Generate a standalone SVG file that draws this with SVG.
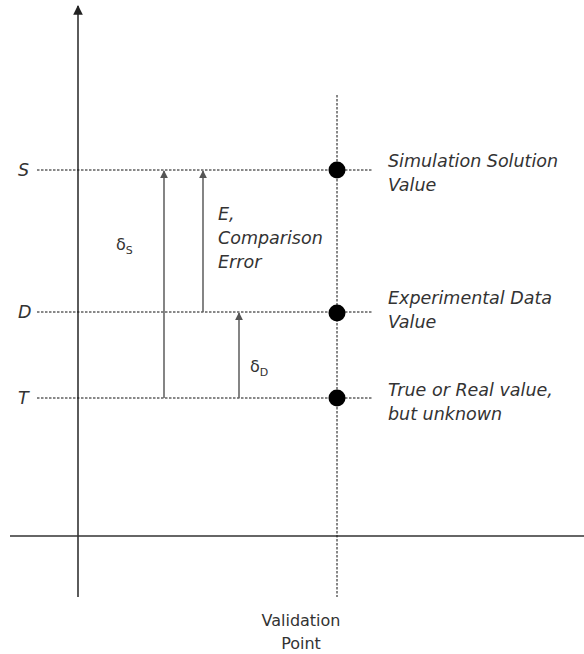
<svg xmlns="http://www.w3.org/2000/svg" width="584" height="654" viewBox="0 0 584 654">
<style>
.lbl{font-family:"DejaVu Sans",sans-serif;font-size:17.5px;font-style:italic;fill:#333}
.up{font-family:"DejaVu Sans",sans-serif;font-size:16px;fill:#333}
.dash{stroke:#111;stroke-width:1;stroke-dasharray:2.5,1.5;fill:none}
.arr{stroke:#666;stroke-width:1.6;fill:none;marker-end:url(#ah)}
.axis{stroke:#333;stroke-width:1.6;fill:none}
.dot{fill:#000}
</style>
<defs>
<marker id="ah" viewBox="0 0 10 10" refX="9" refY="5" markerWidth="5" markerHeight="5" orient="auto" markerUnits="strokeWidth"><path d="M0,0 L10,5 L0,10 z" fill="#555"/></marker>
<marker id="axh" viewBox="0 0 10 10" refX="9" refY="5" markerWidth="6" markerHeight="6" orient="auto" markerUnits="strokeWidth"><path d="M0,0 L10,5 L0,10 z" fill="#222"/></marker>
</defs>
<g id="axes">
<line class="axis" x1="78" y1="597" x2="78" y2="6" marker-end="url(#axh)"/>
<line class="axis" x1="10" y1="536" x2="584" y2="536"/>
</g>
<g id="connectors">
<line class="dash" x1="37" y1="170" x2="372" y2="170"/>
<line class="dash" x1="37" y1="312" x2="372" y2="312"/>
<line class="dash" x1="37" y1="398" x2="372" y2="398"/>
<line class="dash" x1="337" y1="95" x2="337" y2="597"/>
<line class="arr" x1="164" y1="398" x2="164" y2="171"/>
<line class="arr" x1="203" y1="312" x2="203" y2="171"/>
<line class="arr" x1="239" y1="398" x2="239" y2="313"/>
</g>
<g id="level-S"><text class="lbl" x="18" y="176">S</text></g>
<g id="level-D"><text class="lbl" x="18" y="318">D</text></g>
<g id="level-T"><text class="lbl" x="18" y="404">T</text></g>
<g id="point-S"><circle class="dot" cx="337" cy="170" r="8.5"/>
<text class="lbl" x="388" y="167">Simulation Solution</text><text class="lbl" x="388" y="191">Value</text></g>
<g id="point-D"><circle class="dot" cx="337" cy="313" r="8.5"/>
<text class="lbl" x="388" y="304">Experimental Data</text><text class="lbl" x="388" y="328">Value</text></g>
<g id="point-T"><circle class="dot" cx="337" cy="398" r="8.5"/>
<text class="lbl" x="388" y="396">True or Real value,</text><text class="lbl" x="388" y="420">but unknown</text></g>
<g id="label-dS"><text class="up" x="116" y="250" font-size="17">δ<tspan font-size="11" dy="4">S</tspan></text></g>
<g id="label-E"><text class="lbl" x="218" y="220">E,</text><text class="lbl" x="218" y="244">Comparison</text><text class="lbl" x="218" y="268">Error</text></g>
<g id="label-dD"><text class="up" x="250" y="372" font-size="17">δ<tspan font-size="11" dy="4">D</tspan></text></g>
<g id="validation"><text class="up" x="301" y="626" text-anchor="middle">Validation</text><text class="up" x="301" y="649" text-anchor="middle">Point</text></g>
</svg>
